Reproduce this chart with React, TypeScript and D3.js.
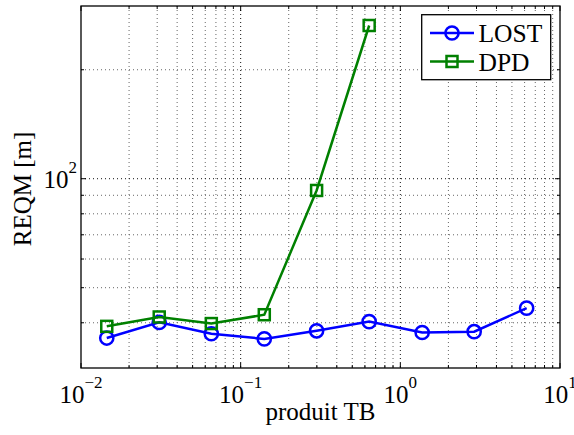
import React from "react";
import * as d3 from "d3";

const xValues = [0.0145, 0.0309, 0.0655, 0.1406, 0.299, 0.638, 1.37, 2.9, 6.18];
const lostValues = [36.3, 40.1, 37.3, 36.1, 38.0, 40.3, 37.6, 37.8, 43.9];
const dpdValues = [39.1, 41.5, 39.8, 42.1, 92.8, 265];
const seriesNames = ["LOST", "DPD"];
const xTickExps = [-2, -1, 0, 1];
const yTickExps = [2];

const W = 574;
const H = 435;
const L = 81, R = 560, T = 6, B = 368;
const FONT = "'Liberation Serif', 'Times New Roman', serif";

export default function App() {
  const x = d3.scaleLog().domain([0.01, 10]).range([L, R]);
  const y = d3.scaleLog().domain([30, 300]).range([B, T]);

  const xMinor: number[] = [];
  for (let e = -2; e < 1; e++) for (let k = 2; k <= 9; k++) xMinor.push(k * Math.pow(10, e));
  const yMinor: number[] = [40, 50, 60, 70, 80, 90, 200];
  const yMajor = yTickExps.map((e) => Math.pow(10, e));
  const xMajor = xTickExps.map((e) => Math.pow(10, e));

  const line = d3
    .line<[number, number]>()
    .x((d) => x(d[0]))
    .y((d) => y(d[1]));

  const lostData: [number, number][] = lostValues.map((v, i) => [xValues[i], v]);
  const dpdData: [number, number][] = dpdValues.map((v, i) => [xValues[i], v]);

  const blue = "#0000ff";
  const green = "#008000";

  const sq = 11;
  const cr = 6.6;
  const sw = 2.5;

  return (
    <svg
      width={W}
      height={H}
      style={{ position: "absolute", left: 0, top: 0, background: "#fff" }}
      fontFamily={FONT}
    >
      <rect x={0} y={0} width={W} height={H} fill="#fff" />
      {/* grid minor */}
      <g stroke="#666" strokeWidth={1} strokeDasharray="1,3">
        {xMinor.map((v, i) => (
          <line key={"xm" + i} x1={x(v)} x2={x(v)} y1={T} y2={B} />
        ))}
        {yMinor.map((v, i) => (
          <line key={"ym" + i} x1={L} x2={R} y1={y(v)} y2={y(v)} />
        ))}
      </g>
      <g stroke="#111" strokeWidth={1} strokeDasharray="1,3">
        {xMajor
          .filter((v) => v > 0.01 && v < 10)
          .map((v, i) => (
            <line key={"xM" + i} x1={x(v)} x2={x(v)} y1={T} y2={B} />
          ))}
        {yMajor.map((v, i) => (
          <line key={"yM" + i} x1={L} x2={R} y1={y(v)} y2={y(v)} />
        ))}
      </g>
      {/* ticks */}
      <g stroke="#000" strokeWidth={1}>
        {xMinor.map((v, i) => (
          <g key={"xt" + i}>
            <line x1={x(v)} x2={x(v)} y1={B} y2={B - 3} />
            <line x1={x(v)} x2={x(v)} y1={T} y2={T + 3} />
          </g>
        ))}
        {xMajor.map((v, i) => (
          <g key={"xT" + i}>
            <line x1={x(v)} x2={x(v)} y1={B} y2={B - 5} />
            <line x1={x(v)} x2={x(v)} y1={T} y2={T + 5} />
          </g>
        ))}
        {yMinor.map((v, i) => (
          <g key={"yt" + i}>
            <line x1={L} x2={L + 3} y1={y(v)} y2={y(v)} />
            <line x1={R} x2={R - 3} y1={y(v)} y2={y(v)} />
          </g>
        ))}
        {yMajor.map((v, i) => (
          <g key={"yT" + i}>
            <line x1={L} x2={L + 5} y1={y(v)} y2={y(v)} />
            <line x1={R} x2={R - 5} y1={y(v)} y2={y(v)} />
          </g>
        ))}
      </g>
      {/* axes box */}
      <rect x={L} y={T} width={R - L} height={B - T} fill="none" stroke="#000" strokeWidth={1.3} />

      {/* series */}
      <path d={line(lostData) || ""} fill="none" stroke={blue} strokeWidth={sw} />
      {lostData.map((d, i) => (
        <circle key={"c" + i} cx={x(d[0])} cy={y(d[1])} r={cr} fill="none" stroke={blue} strokeWidth={sw} />
      ))}
      <path d={line(dpdData) || ""} fill="none" stroke={green} strokeWidth={sw} />
      {dpdData.map((d, i) => (
        <rect
          key={"s" + i}
          x={x(d[0]) - sq / 2}
          y={y(d[1]) - sq / 2}
          width={sq}
          height={sq}
          fill="none"
          stroke={green}
          strokeWidth={sw}
        />
      ))}

      {/* x tick labels */}
      {xTickExps.map((e) => (
        <text key={"xl" + e} x={x(Math.pow(10, e))} y={403} textAnchor="middle" fontSize={25} fill="#000">
          10
          <tspan dy={-15} fontSize={17}>
            {e < 0 ? "\u2212" + Math.abs(e) : String(e)}
          </tspan>
        </text>
      ))}
      {/* y tick labels */}
      {yTickExps.map((e) => (
        <text key={"yl" + e} x={L - 4} y={y(Math.pow(10, e)) + 9} textAnchor="end" fontSize={25} fill="#000">
          10
          <tspan dy={-15} fontSize={17}>
            {String(e)}
          </tspan>
        </text>
      ))}

      {/* axis labels */}
      <text x={(L + R) / 2} y={420} textAnchor="middle" fontSize={25} fill="#000">
        produit TB
      </text>
      <text
        transform={`translate(31, ${(T + B) / 2 + 2}) rotate(-90)`}
        textAnchor="middle"
        fontSize={25}
        fill="#000"
      >
        REQM [m]
      </text>

      {/* legend */}
      <g>
        <rect x={421.7} y={14.7} width={129} height={65} fill="#fff" stroke="#000" strokeWidth={1.3} />
        <line x1={430} x2={474} y1={33} y2={33} stroke={blue} strokeWidth={sw} />
        <circle cx={452} cy={33} r={cr} fill="none" stroke={blue} strokeWidth={sw} />
        <text x={478.5} y={42} fontSize={25.5} fill="#000">
          {seriesNames[0]}
        </text>
        <line x1={430} x2={474} y1={61.5} y2={61.5} stroke={green} strokeWidth={sw} />
        <rect x={452 - sq / 2} y={61.5 - sq / 2} width={sq} height={sq} fill="none" stroke={green} strokeWidth={sw} />
        <text x={478.5} y={70.5} fontSize={25.5} fill="#000">
          {seriesNames[1]}
        </text>
      </g>
    </svg>
  );
}
